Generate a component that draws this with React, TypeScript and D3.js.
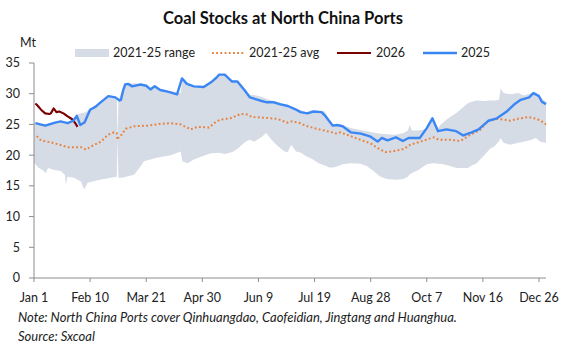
import React from 'react';
import * as d3 from 'd3';

// day index in a leap-year calendar (0 = Jan 1, 59 = Feb 29), values in Mt
const tickDays = [0, 40, 80, 120, 160, 200, 240, 280, 320, 360];
const tickLabels = ['Jan 1', 'Feb 10', 'Mar 21', 'Apr 30', 'Jun 9', 'Jul 19', 'Aug 28', 'Oct 7', 'Nov 16', 'Dec 26'];
const yTicks = [0, 5, 10, 15, 20, 25, 30, 35];

// [day, low, high] of 2021-25
const rangeBand: [number, number, number][] = [
  [0, 18.8, 25.3], [3, 18.0, 25.2], [6, 17.6, 25.0], [8.5, 17.1, 25.0], [10, 17.9, 25.1],
  [14.5, 17.6, 25.4], [19, 17.4, 25.5], [22, 16.8, 25.3], [22.7, 15.2, 25.3], [23.8, 16.5, 25.3],
  [28.5, 16.3, 26.0], [31, 16.0, 26.6], [33.5, 15.7, 26.8], [35.8, 14.4, 26.9], [38.2, 15.5, 27.2],
  [42, 15.7, 27.8], [45.3, 15.9, 28.3], [50, 16.1, 29.0], [54.8, 16.3, 29.7], [59, 16.5, 29.4],
  [59.5, 22.5, 22.5], [60.2, 16.3, 29.0], [62.5, 16.3, 30.3], [65.5, 16.5, 31.6], [71.4, 16.8, 31.7],
  [76, 18.2, 31.6], [78.4, 19.0, 31.4], [83, 19.3, 30.8], [86, 19.5, 31.3], [90.4, 19.7, 30.7],
  [97.5, 20.0, 30.4], [104.6, 20.6, 30.1], [105.8, 19.0, 32.6], [109.4, 18.7, 31.7], [114, 19.3, 31.3],
  [120, 19.8, 31.2], [126, 20.3, 32.0], [132, 20.4, 33.2], [136, 20.2, 33.1], [141.6, 20.5, 32.1],
  [145.4, 21.1, 32.1], [150.2, 22.1, 30.8], [153.7, 22.5, 29.8], [157, 22.2, 29.8], [162, 22.9, 29.5],
  [165.6, 23.6, 29.2], [169, 22.6, 28.9], [173.7, 21.5, 28.7], [178.5, 20.6, 28.3], [181, 20.5, 28.1],
  [183.3, 21.7, 27.9], [186.8, 20.6, 27.6], [190.4, 20.4, 27.3], [194, 19.8, 27.0], [198, 19.4, 27.3],
  [203, 18.7, 27.2], [207.4, 18.3, 27.1], [210.5, 18.0, 25.5], [213.4, 18.0, 25.0], [216.5, 18.2, 25.0],
  [220, 18.5, 24.9], [225.6, 18.7, 24.4], [232.7, 18.6, 24.1], [237.4, 18.2, 23.9], [242, 17.4, 23.7],
  [246.9, 16.5, 23.5], [251.6, 16.1, 23.4], [257.6, 16.0, 23.3], [263.5, 16.1, 23.6], [266.5, 16.5, 24.0],
  [267.8, 16.9, 24.9], [269.5, 17.1, 24.0], [274, 17.6, 24.0], [278.7, 18.3, 24.2], [280.5, 18.5, 24.5],
  [283.8, 18.7, 26.0], [286, 18.7, 25.0], [288.3, 18.6, 24.4], [290, 18.6, 25.0], [295.4, 18.3, 26.0],
  [301.3, 17.9, 26.9], [304.9, 17.9, 27.6], [309.5, 17.9, 28.5], [311, 18.2, 28.6], [315.6, 18.7, 28.9],
  [320.3, 19.8, 28.8], [325, 21.0, 28.9], [328.6, 21.5, 28.9], [331.5, 22.3, 29.0], [332.7, 22.8, 30.9],
  [334.7, 22.0, 30.1], [339.5, 21.7, 29.9], [345.4, 22.0, 30.1], [349, 22.2, 29.7], [355, 22.5, 30.1],
  [357.6, 22.8, 30.2], [361, 22.2, 29.5], [365, 22.0, 28.6],
];

const avg2125: [number, number][] = [
  [2, 23.1], [5, 22.4], [12, 22.1], [18, 21.7], [24, 21.3], [33.5, 21.3], [37, 20.9], [40.6, 21.4],
  [47.7, 22.2], [52.5, 23.3], [57, 23.7], [59, 23.6], [59.5, 22.5], [60.5, 23.0], [62.4, 23.3],
  [65.5, 24.3], [71.4, 24.7], [81, 24.8], [90.4, 25.1], [97.5, 25.2], [104.6, 25.0], [111.7, 24.2],
  [116.5, 24.6], [124.8, 24.5], [129.5, 25.4], [133, 25.8], [140, 26.0], [147.3, 26.7], [152, 26.6],
  [155.7, 26.2], [164, 26.1], [173.5, 25.9], [180.6, 25.3], [184, 25.5], [190, 25.2], [193.6, 24.8],
  [199.5, 24.4], [209, 23.9], [216, 23.5], [218.5, 23.7], [225.6, 23.1], [232.7, 22.5], [240, 21.9],
  [244.6, 21.2], [250.5, 20.5], [255.3, 20.6], [263.6, 21.0], [268.3, 21.7], [275.4, 22.2], [285, 22.9],
  [288.5, 22.5], [296.8, 22.5], [303.9, 22.3], [311, 23.3], [318, 24.1], [324, 25.6], [330, 25.9],
  [334.7, 25.8], [339.5, 25.6], [344.3, 25.9], [352.5, 26.2], [358.5, 25.9], [362, 25.5], [365, 25.0],
];

const series2025: [number, number][] = [
  [1, 25.2], [8, 24.8], [15, 25.3], [19, 25.5], [24, 25.2], [28, 25.6], [30.5, 26.4], [33, 24.9],
  [36, 25.3], [40, 27.4], [44, 27.9], [47, 28.5], [53, 29.6], [58, 29.4], [61, 28.9], [62, 29.0],
  [63.5, 30.5], [65, 31.5], [67, 31.6], [70, 31.2], [76, 31.5], [80, 31.3], [83, 30.7], [86, 31.2],
  [90, 30.6], [96, 30.3], [102, 29.9], [105.5, 32.5], [109, 31.6], [114, 31.2], [121, 31.1], [127, 32.0],
  [130, 32.6], [132, 33.1], [136, 33.1], [141, 32.0], [145, 32.0], [150, 30.6], [154, 29.4], [161, 28.9],
  [166, 28.6], [171, 28.6], [175, 28.3], [181, 28.0], [186, 27.5], [190, 27.0], [195, 26.8], [199, 27.1],
  [205, 27.0], [208, 26.3], [213, 24.8], [216, 24.9], [220, 24.7], [226, 23.7], [233, 23.5], [240, 23.0],
  [245, 22.2], [248, 22.8], [252, 22.4], [258, 22.9], [263, 22.3], [267, 22.8], [275, 22.8], [280, 24.4],
  [284, 26.0], [288, 23.9], [294, 24.2], [301, 23.9], [306, 23.2], [312, 23.7], [317, 24.2], [322, 25.2],
  [324, 25.6], [330, 26.0], [337, 27.1], [342, 28.2], [347, 29.0], [353, 29.4], [356, 30.1], [360, 29.6],
  [362, 28.7], [365, 28.3],
];

const series2026: [number, number][] = [
  [1, 28.4], [2, 28.2], [5, 27.4], [8, 26.8], [11, 26.7], [12, 26.8], [14, 27.6], [16, 27.0],
  [18, 27.1], [21, 26.8], [24, 26.3], [27.5, 25.8], [30, 25.0], [31, 24.6],
];

const FONT = 'Lato, "Noto Sans", sans-serif';

export default function App() {
  const width = 567;
  const height = 358;
  const margin = { top: 63, right: 21, bottom: 80, left: 34 };

  const x = d3.scaleLinear().domain([0, 365]).range([margin.left, width - margin.right]);
  const y = d3.scaleLinear().domain([0, 35]).range([height - margin.bottom, margin.top]);

  const area = d3.area<[number, number, number]>()
    .x((d) => x(d[0]))
    .y0((d) => y(d[1]))
    .y1((d) => y(d[2]));

  const line = d3.line<[number, number]>()
    .x((d) => x(d[0]))
    .y((d) => y(d[1]));

  const axisColor = '#8c8c8c';
  const textColor = '#222';

  return (
    <svg width={width} height={height} style={{ position: 'fixed', left: 0, top: 0, background: '#fff' }} fontFamily={FONT}>
      <text x={283} y={24} textAnchor="middle" fontSize={16.5} fontWeight="bold" fill="#111">
        Coal Stocks at North China Ports
      </text>

      {/* legend */}
      <g fontSize={12.5} fill={textColor}>
        <rect x={75} y={49} width={34} height={8} fill="#d6dce5" />
        <text x={113} y={57}>2021-25 range</text>
        <line x1={212} x2={244} y1={53} y2={53} stroke="#e8803a" strokeWidth={2} strokeDasharray="1.8 2.4" />
        <text x={249} y={57}>2021-25 avg</text>
        <line x1={337} x2={371} y1={53} y2={53} stroke="#7a0000" strokeWidth={2.2} />
        <text x={376} y={57}>2026</text>
        <line x1={423} x2={457} y1={53} y2={53} stroke="#3b86f5" strokeWidth={2.4} />
        <text x={461} y={57}>2025</text>
      </g>

      <text x={20} y={47} fontSize={12.5} fill={textColor}>Mt</text>

      <path d={area(rangeBand) ?? ''} fill="#d6dce5" />
      <path d={line(avg2125) ?? ''} fill="none" stroke="#e8803a" strokeWidth={2} strokeDasharray="1.8 2.4" />
      <path d={line(series2026) ?? ''} fill="none" stroke="#7a0000" strokeWidth={2.1} strokeLinejoin="round" />
      <path d={line(series2025) ?? ''} fill="none" stroke="#3b86f5" strokeWidth={2.4} strokeLinejoin="round" />

      {/* y axis */}
      <line x1={x(0)} x2={x(0)} y1={y(0)} y2={y(35)} stroke={axisColor} />
      {yTicks.map((t) => (
        <g key={t}>
          <line x1={x(0) - 5} x2={x(0)} y1={y(t)} y2={y(t)} stroke={axisColor} />
          <text x={20} y={y(t)} dy="0.35em" textAnchor="end" fontSize={12.5} fill={textColor}>{t}</text>
        </g>
      ))}

      {/* x axis */}
      <line x1={x(0)} x2={x(365)} y1={y(0)} y2={y(0)} stroke={axisColor} />
      {tickDays.map((d, i) => (
        <g key={d}>
          <line x1={x(d)} x2={x(d)} y1={y(0)} y2={y(0) + 4} stroke={axisColor} />
          <text x={x(d)} y={302} textAnchor="middle" fontSize={12.5} fill={textColor}>{tickLabels[i]}</text>
        </g>
      ))}

      <g fontSize={13} fontStyle="italic" fill={textColor}>
        <text x={18} y={322}>Note: North China Ports cover Qinhuangdao, Caofeidian, Jingtang and Huanghua.</text>
        <text x={18} y={341}>Source: Sxcoal</text>
      </g>
    </svg>
  );
}
